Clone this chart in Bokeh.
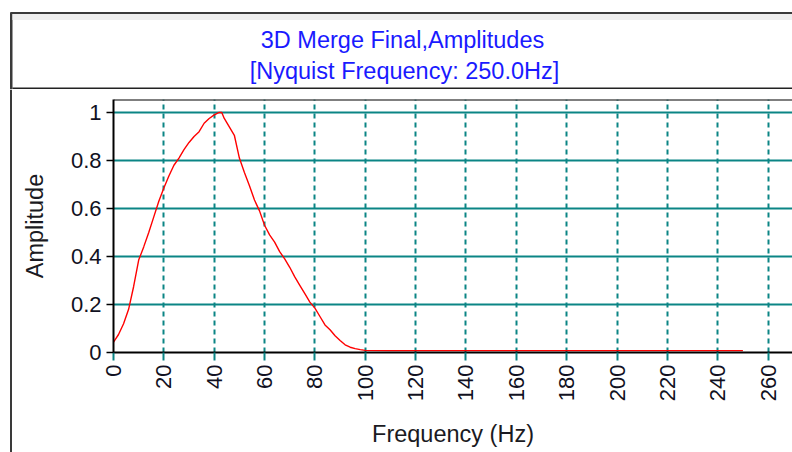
import math

from bokeh.core.properties import value
from bokeh.embed import file_html
from bokeh.layouts import column, row
from bokeh.models import CustomJSTickFormatter, FixedTicker, Range1d, Span
from bokeh.plotting import figure
from bokeh.resources import INLINE

# Amplitude spectrum (normalised) against frequency in Hz
freq_hz = [0, 2, 4, 6, 8, 10, 12, 14, 16, 18, 20, 22, 24, 26, 28, 30, 32, 34, 36, 38,
           40, 42, 43, 44, 46, 48, 50, 52, 54, 56, 58, 60, 62, 64, 66, 68, 70, 72, 74,
           76, 78, 80, 82, 84, 86, 88, 90, 92, 94, 96, 98, 100, 110, 120, 130, 140,
           150, 160, 170, 180, 190, 200, 210, 220, 230, 240, 250]
amplitude = [0.043, 0.075, 0.12, 0.18, 0.275, 0.385, 0.44, 0.5, 0.565, 0.63, 0.685,
             0.735, 0.78, 0.81, 0.845, 0.875, 0.9, 0.92, 0.955, 0.975, 0.99, 1.0, 1.0,
             0.975, 0.94, 0.905, 0.81, 0.75, 0.695, 0.635, 0.59, 0.53, 0.49, 0.46, 0.42,
             0.39, 0.355, 0.315, 0.28, 0.245, 0.21, 0.185, 0.15, 0.115, 0.095, 0.07,
             0.05, 0.032, 0.022, 0.016, 0.012, 0.009, 0.008, 0.008, 0.008, 0.008, 0.008,
             0.008, 0.008, 0.008, 0.008, 0.008, 0.008, 0.008, 0.008, 0.008, 0.008]

x_ticks = list(range(0, 261, 20))
y_ticks = [0, 0.2, 0.4, 0.6, 0.8, 1.0]
title_lines = ["3D Merge Final,Amplitudes", "[Nyquist Frequency: 250.0Hz]"]

TEAL = "#0b8585"
FONT = "Liberation Sans"
TEXT = "#111122"
EDGE = "#3a3a3a"

W, H = 792, 452
HEAD_H = 89      # height of the heading panel
STRIP_W = 12     # width of the window edge strip on the left


def bare(fig):
    """Strip axes, grid and borders from a decoration panel."""
    fig.axis.visible = False
    fig.grid.visible = False
    fig.outline_line_color = None
    fig.min_border = 0
    fig.frame_align = False
    return fig


# heading panel: window edge, grey caption band, separator and the two-line title
hd = bare(figure(width=W, height=HEAD_H, x_range=Range1d(0, W), y_range=Range1d(HEAD_H, 0),
                 output_backend="svg", toolbar_location=None,
                 background_fill_color="white", border_fill_color="white"))
hd.quad(left=[9.5, 10, 12, 12], right=[12, W, W, W],
        top=[12, 11.5, 13.5, 87], bottom=[HEAD_H, 13.5, 19.5, 89],
        fill_color=[EDGE, EDGE, "#eeeeee", "#222222"], line_color=None)
hd.text(x=[402, 404], y=[39.5, 70.5], text=title_lines,
        text_font=value(FONT), text_font_size="23.5px", text_color="#1a1aff",
        text_align="center", text_baseline="alphabetic")

# left window edge below the heading
strip = bare(figure(width=STRIP_W, height=H - HEAD_H, x_range=Range1d(0, STRIP_W),
                    y_range=Range1d(0, H - HEAD_H), output_backend="svg",
                    toolbar_location=None, background_fill_color="white",
                    border_fill_color="white"))
strip.quad(left=[9.5], right=[12], top=[H - HEAD_H], bottom=[0],
           fill_color=EDGE, line_color=None)

# main chart
p = figure(width=W - STRIP_W, height=H - HEAD_H,
           x_range=Range1d(0, 269.7), y_range=Range1d(0, 1.054),
           output_backend="svg", toolbar_location=None,
           min_border_left=113 - STRIP_W, min_border_right=0,
           min_border_top=99 - HEAD_H, min_border_bottom=100,
           background_fill_color="white", border_fill_color="white",
           outline_line_color=None)
p.frame_align = False

p.xaxis.ticker = FixedTicker(ticks=x_ticks)
p.xaxis.major_label_orientation = math.pi / 2
p.xaxis.axis_label = "Frequency (Hz)"
p.xaxis.major_tick_line_color = TEAL
p.xaxis.major_tick_line_width = 2
p.xaxis.major_tick_in = 0
p.xaxis.major_tick_out = 8
p.xaxis.major_label_standoff = 4
p.xaxis.axis_label_standoff = 17

p.yaxis.ticker = FixedTicker(ticks=y_ticks)
p.yaxis.formatter = CustomJSTickFormatter(
    code="return Math.abs(tick - Math.round(tick)) < 1e-9 ? tick.toFixed(0) : tick.toFixed(1);")
p.yaxis.axis_label = "Amplitude"
p.yaxis.major_tick_line_color = "black"
p.yaxis.major_tick_line_width = 1.5
p.yaxis.major_tick_in = 0
p.yaxis.major_tick_out = 7
p.yaxis.major_label_standoff = 5
p.yaxis.axis_label_standoff = 20

for ax in (p.xaxis, p.yaxis):
    ax.axis_line_color = "black"
    ax.axis_line_width = 2
    ax.minor_tick_line_color = None
    ax.major_label_text_font = FONT
    ax.major_label_text_font_size = "22px"
    ax.major_label_text_color = TEXT
    ax.axis_label_text_font = FONT
    ax.axis_label_text_font_size = "23.5px"
    ax.axis_label_text_font_style = "normal"
    ax.axis_label_text_color = "#1a1a22"

# grid: solid horizontals, dashed verticals
p.ygrid.grid_line_color = TEAL
p.ygrid.grid_line_width = 2
p.xgrid.grid_line_color = TEAL
p.xgrid.grid_line_width = 2
p.xgrid.grid_line_dash = "5 4"

# top edge of the plotting area
p.add_layout(Span(location=1.054, dimension="width", line_color="black", line_width=2))

# spectrum curve
p.line(freq_hz, amplitude, line_color="red", line_width=1.4)

layout = column(hd, row(strip, p, spacing=0), spacing=0)
open("out.html", "w").write(file_html(layout, INLINE))
